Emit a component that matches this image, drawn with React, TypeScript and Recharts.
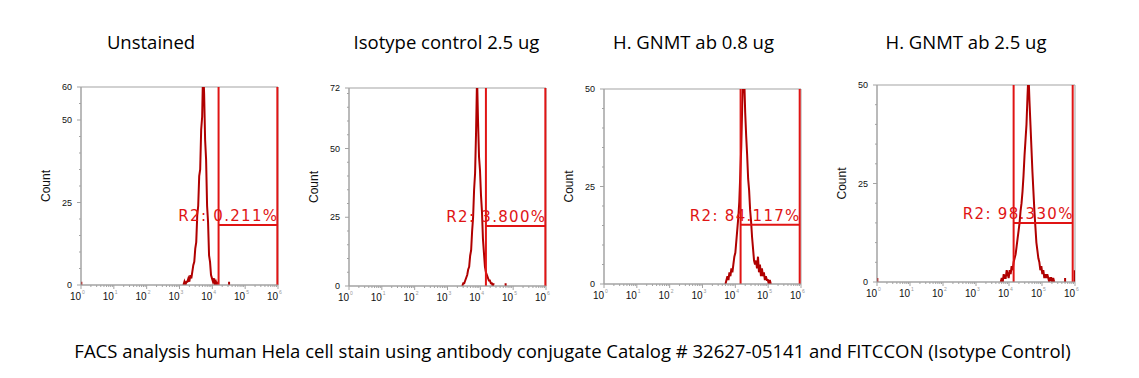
import React from 'react';
import { LineChart, Line, XAxis, YAxis, ReferenceLine, ReferenceArea } from 'recharts';

// histogram channel width, in decades of fluorescence
const BIN = 0.03;

const titles = ['Unstained', 'Isotype control 2.5 ug', 'H. GNMT ab 0.8 ug', 'H. GNMT ab 2.5 ug'];
const caption =
  'FACS analysis human Hela cell stain using antibody conjugate Catalog # 32627-05141 and FITCCON (Isotype Control)';

const decades = [0, 1, 2, 3, 4, 5, 6];

// counts per channel (first channel at *Start, in log10 units)
const unstainedStart = 3.12;
const unstainedCounts = [
  0, 1, 0, 1, 1, 2, 1, 3, 2, 4, 6, 7, 11, 13, 21, 24, 33, 35, 47, 51, 66, 58, 44, 38, 24, 19, 9, 7, 3, 2,
  1, 2, 0, 1, 0, 1,
];
const unstainedSpikes = [[0.01, 1], [4.51, 1]];

const isotypeStart = 3.45;
const isotypeCounts = [
  0, 1, 1, 2, 3, 4, 6, 7, 11, 13, 20, 25, 35, 41, 56, 76, 60, 47, 42, 33, 27, 17, 12, 7, 5, 4, 3, 2, 2, 1,
  1, 0, 1,
];
const isotypeSpikes = [[4.77, 1]];

const gnmt08Start = 3.7;
const gnmt08Counts = [
  0, 1, 2, 1, 3, 2, 4, 3, 5, 7, 8, 11, 14, 17, 21, 28, 35, 46, 54, 53, 44, 38, 33, 27, 24, 19, 16, 12, 9, 6,
  5, 6, 4, 7, 3, 5, 2, 4, 2, 3, 1, 2, 1, 1, 0, 1, 0,
];
const gnmt08Spikes: number[][] = [];

const gnmt25Start = 3.75;
const gnmt25Counts = [
  0, 1, 0, 2, 1, 1, 3, 2, 1, 3, 2, 4, 3, 5, 6, 7, 9, 11, 13, 15, 18, 20, 23, 27, 32, 36, 40, 47, 53, 46,
  40, 34, 28, 23, 18, 14, 10, 8, 6, 5, 3, 4, 2, 3, 1, 2, 1, 2, 1, 0, 1, 1, 0, 1, 0,
];
const gnmt25Spikes = [[0.01, 1], [5.7, 1], [5.99, 3]];

const yMaxes = [60, 72, 50, 50];
const gateLow = [4.19, 4.17, 4.16, 4.14];
const gateHigh = [5.98, 5.98, 5.96, 5.93];
const gateLevel = [18.2, 21.8, 15.2, 15.0];
const gateText = ['R2: 0.211%', 'R2: 3.800%', 'R2: 84.117%', 'R2: 98.330%'];

const starts = [unstainedStart, isotypeStart, gnmt08Start, gnmt25Start];
const counts = [unstainedCounts, isotypeCounts, gnmt08Counts, gnmt25Counts];
const spikes = [unstainedSpikes, isotypeSpikes, gnmt08Spikes, gnmt25Spikes];

// plot boxes: left, top, width, height
const boxes = [
  [81, 87, 197, 198],
  [349, 88, 197, 198],
  [604, 89, 197, 195],
  [877, 85, 198, 197],
];

const HIST = '#b00000';
const GATE = '#e01414';
const AXIS = '#a3a3a3';
const AXIS_W = 50;

type Row = { x: number; count: number | null };

function buildRows(start: number, values: number[], extra: number[][]): Row[] {
  const rows: Row[] = [];
  const end = start + values.length * BIN;
  const spike = (s: number[]) => {
    rows.push({ x: s[0], count: 0 }, { x: s[0], count: s[1] }, { x: s[0], count: null });
  };
  extra.filter((s) => s[0] < start).forEach(spike);
  values.forEach((c, i) => rows.push({ x: +(start + i * BIN).toFixed(3), count: c }));
  rows.push({ x: end, count: null });
  extra.filter((s) => s[0] >= end).forEach(spike);
  return rows;
}

const xTicks: number[] = [];
decades.forEach((d) => {
  if (d === 6) {
    xTicks.push(6);
    return;
  }
  for (let m = 1; m <= 9; m++) xTicks.push(+(d + Math.log10(m)).toFixed(4));
});

const LogTick = (props: any) => {
  const { x, y, payload } = props;
  const v = payload.value;
  const major = Math.abs(v - Math.round(v)) < 1e-6;
  return (
    <g>
      <line x1={x} x2={x} y1={y} y2={y + (major ? 4 : 2)} stroke={AXIS} />
      {major && (
        <>
          <text x={x} y={y + 15} textAnchor="end" fontSize={10} fontFamily="Liberation Sans, Arial" fill="#111">
            10
          </text>
          <text x={x + 1} y={y + 9} fontSize={5} fontFamily="Liberation Sans, Arial" fill="#999">
            {Math.round(v)}
          </text>
        </>
      )}
    </g>
  );
};

const makeCountTick = (labels: number[]) => (props: any) => {
  const { x, y, payload } = props;
  const major = labels.includes(payload.value);
  return (
    <g>
      <line x1={x - (major ? 4 : 2)} x2={x} y1={y} y2={y} stroke={AXIS} />
      {major && (
        <text x={x - 9} y={y + 3} textAnchor="end" fontSize={9} fontFamily="Liberation Sans, Arial" fill="#111">
          {payload.value}
        </text>
      )}
    </g>
  );
};

function Panel({ i }: { i: number }) {
  const [left, top, w, h] = boxes[i];
  const yMax = yMaxes[i];
  const rows = buildRows(starts[i], counts[i], spikes[i]);
  const yTicks: number[] = [];
  for (let v = 0; v <= yMax; v += 5) yTicks.push(v);
  if (yTicks[yTicks.length - 1] !== yMax) yTicks.push(yMax);
  const yLabels = [0, 25, 50, yMax];
  const text = gateText[i];

  return (
    <div style={{ position: 'absolute', left: left - AXIS_W, top: top - 10 }}>
      <LineChart
        width={AXIS_W + w + 12}
        height={10 + h + 25}
        data={rows}
        margin={{ top: 10, right: 12, left: 0, bottom: 0 }}
      >
        <XAxis
          dataKey="x"
          type="number"
          domain={[0, 6]}
          allowDataOverflow
          ticks={xTicks}
          interval={0}
          tick={LogTick}
          tickLine={false}
          tickSize={0}
          tickMargin={0}
          axisLine={{ stroke: AXIS }}
          height={25}
        />
        <YAxis
          type="number"
          domain={[0, yMax]}
          allowDataOverflow
          ticks={yTicks}
          interval={0}
          tick={makeCountTick(yLabels)}
          tickLine={false}
          tickSize={0}
          tickMargin={0}
          axisLine={{ stroke: AXIS }}
          width={AXIS_W}
          label={({ viewBox }: any) => (
            <text
              transform={`translate(${viewBox.x + viewBox.width - 35},${viewBox.y + viewBox.height / 2}) rotate(-90)`}
              textAnchor="middle"
              dominantBaseline="central"
              fontSize={12}
              fontFamily="Liberation Sans, Arial"
              fill="#111"
            >
              Count
            </text>
          )}
        />
        <ReferenceArea x1={0} x2={6} y1={0} y2={yMax} fill="none" stroke={AXIS} strokeOpacity={1} fillOpacity={0} />
        <Line
          dataKey="count"
          type="linear"
          stroke={HIST}
          strokeWidth={2}
          dot={false}
          activeDot={false}
          connectNulls={false}
          isAnimationActive={false}
        />
        <ReferenceLine x={gateLow[i]} stroke={GATE} strokeWidth={2} />
        <ReferenceLine x={gateHigh[i]} stroke={GATE} strokeWidth={2} />
        <ReferenceLine
          segment={[
            { x: gateLow[i], y: gateLevel[i] },
            { x: gateHigh[i], y: gateLevel[i] },
          ]}
          stroke={GATE}
          strokeWidth={2}
          label={({ viewBox }: any) => (
            <text
              x={viewBox.x + viewBox.width + 1}
              y={viewBox.y - 4}
              textAnchor="end"
              fontFamily="DejaVu Sans"
              fontSize={15}
              letterSpacing={1.3}
              fill={GATE}
            >
              {text}
            </text>
          )}
        />
      </LineChart>
    </div>
  );
}

const titleCenters = [151, 446.5, 693.5, 966];

export default function App() {
  return (
    <div
      style={{ position: 'absolute', left: 0, top: 0, width: 1139, height: 378, background: '#fff', overflow: 'hidden' }}
    >
      <svg width={1139} height={378} style={{ position: 'absolute', left: 0, top: 0 }}>
        {titles.map((t, i) => (
          <text key={t} x={titleCenters[i]} y={49} textAnchor="middle" fontSize={18.5} fontFamily="Open Sans" fill="#000">
            {t}
          </text>
        ))}
        <text x={572.5} y={358} textAnchor="middle" fontSize={18.5} fontFamily="Open Sans" fill="#000">
          {caption}
        </text>
      </svg>
      {titles.map((t, i) => (
        <Panel key={t} i={i} />
      ))}
    </div>
  );
}
